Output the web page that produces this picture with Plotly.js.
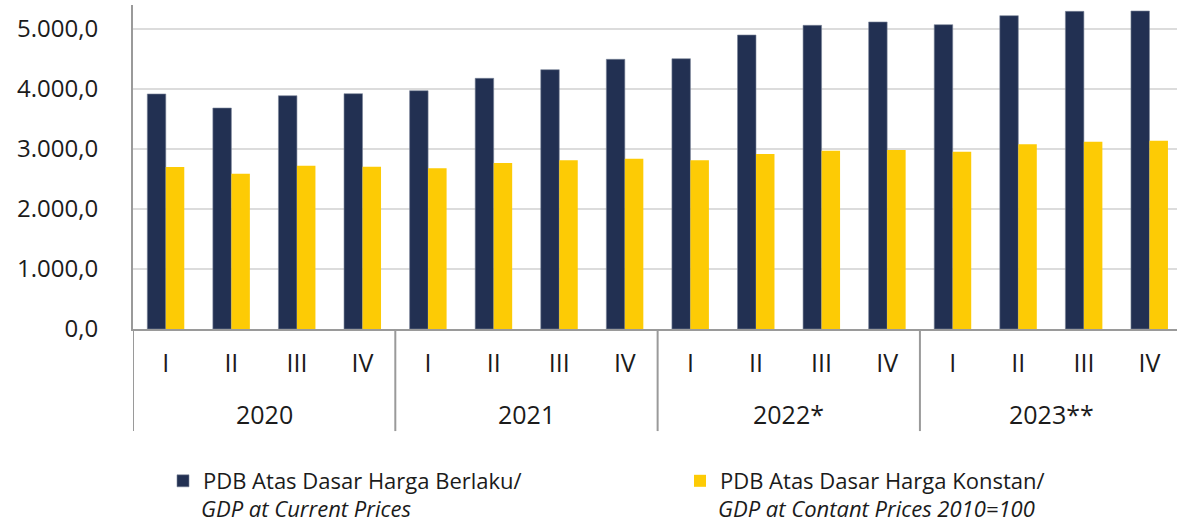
<!DOCTYPE html>
<html>
<head>
<meta charset="utf-8">
<script src="https://cdn.plot.ly/plotly-3.0.1.min.js"></script>
<style>
  html, body { margin: 0; padding: 0; background: #ffffff; }
  #chart { width: 1177px; height: 527px; }
</style>
</head>
<body>
<div id="chart"></div>
<script>
// ---- Data ----
const quarters = ['I','II','III','IV','I','II','III','IV','I','II','III','IV','I','II','III','IV'];
const years = ['2020', '2021', '2022*', '2023**'];
const currentPrices = [3917, 3683, 3888, 3922, 3972, 4178, 4322, 4495, 4505, 4900, 5061, 5117, 5072, 5222, 5294, 5300];
const constantPrices = [2700, 2588, 2722, 2705, 2678, 2767, 2812, 2838, 2812, 2917, 2972, 2983, 2955, 3078, 3122, 3138];
const seriesNamesId = ['PDB Atas Dasar Harga Berlaku/', 'PDB Atas Dasar Harga Konstan/'];
const seriesNamesEn = ['GDP at Current Prices', 'GDP at Contant Prices 2010=100'];
const yTicks = [0, 1000, 2000, 3000, 4000, 5000];

// ---- Build ----
const xIdx = quarters.map((_, i) => i);
const perYear = quarters.length / years.length;
const FONT = 'Open Sans, Noto Sans, sans-serif';
const TXT = '#1b1b1b';
const LEG_X = [163, 680];   // px, left of each legend entry
const LEG_FONT = 22;

const traces = [
  { type: 'bar', name: seriesNamesId[0], x: xIdx, y: currentPrices, legend: 'legend',
    marker: { color: '#223052', line: { width: 0.6, color: '#7b8498' } }, hoverinfo: 'y' },
  { type: 'bar', name: seriesNamesId[1], x: xIdx, y: constantPrices, legend: 'legend2',
    marker: { color: '#fdcb05', line: { width: 0 } }, hoverinfo: 'y' }
];

const shapes = [];
const annotations = [];
years.forEach((yr, g) => {
  shapes.push({ type: 'line', xref: 'x', yref: 'paper',
    x0: g * perYear - 0.5, x1: g * perYear - 0.5, y0: 0, y1: -0.315,
    line: { color: '#9a9a9a', width: 2 } });
  annotations.push({ xref: 'x', yref: 'paper', x: g * perYear + (perYear - 1) / 2, y: -0.262,
    text: yr, showarrow: false, xanchor: 'center', yanchor: 'middle',
    font: { family: FONT, size: 25, color: TXT } });
});
// second (English, italic) line of each legend entry
seriesNamesEn.forEach((t, i) => {
  annotations.push({ xref: 'paper', yref: 'paper',
    x: (LEG_X[i] + 36 - 133) / 1044, y: -0.551,
    text: '<i>' + t + '</i>', showarrow: false, xanchor: 'left', yanchor: 'middle',
    font: { family: FONT, size: LEG_FONT, color: TXT } });
});

const legendBase = {
  orientation: 'h', xref: 'container', yref: 'container', xanchor: 'left',
  y: 1 - 460 / 527, yanchor: 'top', valign: 'top',
  font: { family: FONT, size: LEG_FONT, color: TXT },
  bgcolor: 'rgba(0,0,0,0)'
};

const layout = {
  width: 1177, height: 527,
  margin: { l: 133, r: 0, t: 5, b: 198, pad: 0, autoexpand: false },
  paper_bgcolor: '#ffffff', plot_bgcolor: '#ffffff',
  separators: ',.',
  barmode: 'group', bargap: 0.436, bargroupgap: 0,
  font: { family: FONT, color: TXT },
  xaxis: {
    type: 'linear', range: [-0.5, 15.42],
    tickmode: 'array', tickvals: xIdx, ticktext: quarters,
    showgrid: false, zeroline: false,
    showline: true, linecolor: '#9a9a9a', linewidth: 2,
    ticks: '', ticklabelstandoff: 11,
    tickfont: { family: FONT, size: 25, color: TXT }
  },
  yaxis: {
    range: [0, 5400], tickmode: 'array', tickvals: yTicks, tickformat: ',.1f',
    showgrid: true, gridcolor: '#dcdcdc', gridwidth: 1.5,
    zeroline: false, showline: true, linecolor: '#9a9a9a', linewidth: 2,
    ticks: '', ticklabelstandoff: 28,
    tickfont: { family: FONT, size: 24, color: TXT }
  },
  showlegend: true,
  legend: Object.assign({}, legendBase, { x: LEG_X[0] / 1177 }),
  legend2: Object.assign({}, legendBase, { x: LEG_X[1] / 1177 }),
  shapes: shapes,
  annotations: annotations
};

Plotly.newPlot('chart', traces, layout, { displayModeBar: false, staticPlot: true });
</script>
</body>
</html>
